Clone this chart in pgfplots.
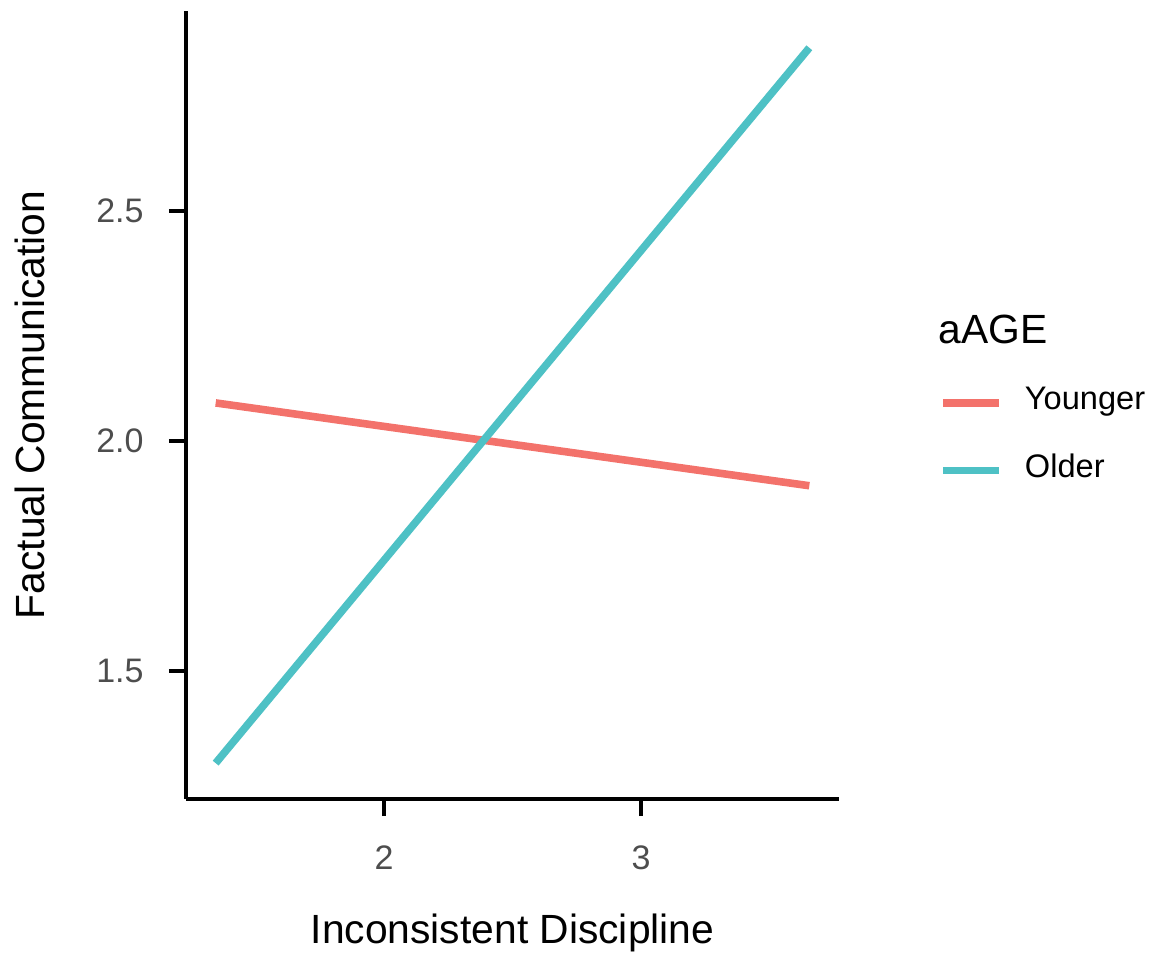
\documentclass[border=0pt]{standalone}
\usepackage{pgfplots}
\pgfplotsset{compat=1.18}
\usepackage{fontspec}
\setmainfont{Liberation Sans}
\definecolor{cyoung}{HTML}{F3726B}
\definecolor{cold}{HTML}{4EC1C5}
\definecolor{tickgray}{HTML}{4D4D4D}
\begin{document}
\begin{tikzpicture}
\path[use as bounding box] (-93pt,-79.5pt) rectangle (485.5pt,399.5pt);
\begin{axis}[
  at={(0,0)}, anchor=south west,
  scale only axis,
  width=326.5pt, height=394pt,
  xmin=1.2295, xmax=3.7705,
  ymin=1.222, ymax=2.935,
  axis lines=left,
  axis line style={-, line width=2pt, black},
  xtick={2,3}, ytick={1.5,2.0,2.5},
  yticklabel style={/pgf/number format/fixed, /pgf/number format/fixed zerofill, /pgf/number format/precision=1},
  /pgf/number format/assume math mode=true,
  tick align=outside,
  major tick length=8.5pt,
  tick style={line width=2pt, black},
  ticklabel style={font=\fontsize{17}{20}\selectfont, text=tickgray, inner sep=0pt},
  yticklabel style={anchor=east, xshift=-12.5pt},
  xticklabel style={anchor=north, yshift=-14.5pt},
  xlabel={Inconsistent Discipline},
  ylabel={Factual Communication},
  label style={font=\fontsize{20.4}{24}\selectfont, inner sep=0pt},
  xlabel style={at={(axis description cs:0.5,0)}, anchor=base, yshift=-72pt},
  ylabel style={at={(axis description cs:0,0.5)}, anchor=center, yshift=78pt},
  legend style={draw=none, fill=none, inner sep=0pt,
    at={(axis description cs:1.153,0.5138)}, anchor=north west,
    row sep=25.6pt, column sep=11pt,
    nodes={inner sep=0pt, font=\fontsize{16.3}{19}\selectfont, text height=0.75em, text depth=0.07em}},
  legend cell align=left,
  legend image code/.code={\draw[#1] (0pt,0pt) -- (28pt,0pt);},
  clip=false,
]
\addplot[cyoung, line width=3.8pt] coordinates {(1.345,2.083) (3.655,1.903)};
\addlegendentry{Younger}
\addplot[cold, line width=3.8pt] coordinates {(1.345,1.300) (3.655,2.855)};
\addlegendentry{Older}
\node[anchor=base west, inner sep=0pt, font=\fontsize{20.4}{24}\selectfont] at (axis description cs:1.1518,0.578) {aAGE};
\end{axis}
\end{tikzpicture}
\end{document}
